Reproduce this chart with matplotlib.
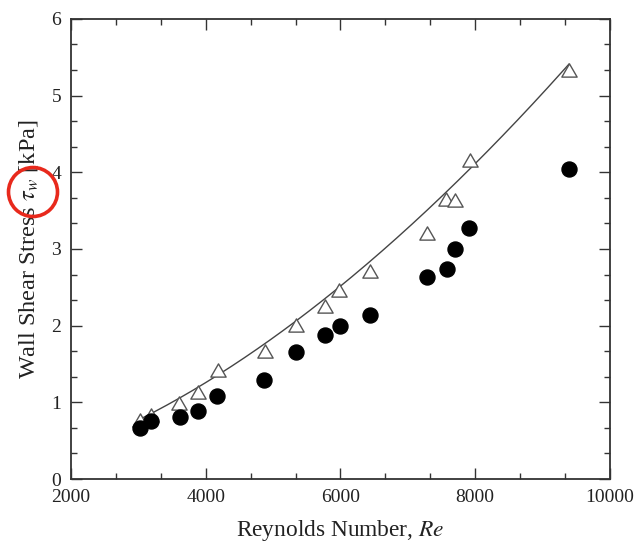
import numpy as np
import matplotlib
matplotlib.use("Agg")
import matplotlib.pyplot as plt
from matplotlib.path import Path
from matplotlib.patches import Ellipse
from matplotlib.ticker import MultipleLocator

plt.rcParams["font.family"] = ["Liberation Serif", "DejaVu Serif"]
plt.rcParams["mathtext.fontset"] = "stix"

# Measured wall shear stress (filled circles)
re_measured = [3024, 3183, 3618, 3881, 4172, 4872, 5335, 5770, 5993, 6438,
               7279, 7576, 7700, 7912, 9396]
tau_measured = [0.67, 0.76, 0.81, 0.89, 1.08, 1.29, 1.66, 1.88, 2.00, 2.14,
                2.63, 2.74, 3.00, 3.28, 4.04]

# Predicted wall shear stress (open triangles)
re_predicted = [3024, 3183, 3607, 3889, 4180, 4880, 5335, 5770, 5982, 6438,
                7279, 7566, 7700, 7922, 9392]
tau_predicted = [0.77, 0.84, 0.99, 1.14, 1.42, 1.67, 2.01, 2.26, 2.47, 2.71,
                 3.21, 3.65, 3.64, 4.16, 5.33]

# Points along the correlation curve
re_curve = [3039, 3603, 4657, 4879, 5295, 6289, 6438, 6839, 7477, 7967,
            8323, 8887, 9392]
tau_curve = [0.78, 1.07, 1.64, 1.75, 2.03, 2.73, 2.82, 3.12, 3.65, 4.07,
             4.42, 4.96, 5.43]

x_ticks = [2000, 4000, 6000, 8000, 10000]
y_ticks = [0, 1, 2, 3, 4, 5, 6]

fig = plt.figure(figsize=(6.34, 5.49), dpi=100)
ax = fig.add_axes([0.112, 0.1275, 0.850, 0.838])

# power-law correlation through the curve points
b, log_a = np.polyfit(np.log(re_curve), np.log(tau_curve), 1)
re_line = np.linspace(min(re_curve), max(re_curve), 200)
ax.plot(re_line, np.exp(log_a) * re_line ** b, color="#444444", lw=1.0, zorder=2)

# equilateral triangle marker
tri = Path([(-1, -0.866), (1, -0.866), (0, 0.866), (-1, -0.866)],
           [Path.MOVETO, Path.LINETO, Path.LINETO, Path.CLOSEPOLY])

ax.plot(re_predicted, tau_predicted, linestyle="none", marker=tri, ms=11,
        mfc="white", mec="#555555", mew=1.0, zorder=3)
ax.plot(re_measured, tau_measured, linestyle="none", marker="o", ms=10.8,
        mfc="black", mec="black", zorder=4)

ax.set_xlim(2000, 10000)
ax.set_ylim(0, 6)
ax.set_xticks(x_ticks)
ax.set_yticks(y_ticks)
ax.set_xticklabels([str(v) for v in x_ticks])
ax.set_yticklabels([str(v) for v in y_ticks])
ax.xaxis.set_minor_locator(MultipleLocator(2000 / 3))
ax.yaxis.set_minor_locator(MultipleLocator(1 / 3))

ax.tick_params(which="both", direction="in", top=True, right=True,
               color="#333333", width=1.0, labelsize=14, labelcolor="#222222")
ax.tick_params(which="major", length=8, pad=7)
ax.tick_params(which="minor", length=4.5)
for s in ax.spines.values():
    s.set_color("#333333")
    s.set_linewidth(1.3)

ax.set_xlabel(r"Reynolds Number, $\mathit{Re}$", fontsize=16.8, color="#222222",
              labelpad=9)
ax.set_ylabel(r"Wall Shear Stress $\tau_w$ [kPa]", fontsize=17.5, color="#222222",
              labelpad=8)

# highlight ring around the symbol in the axis label
ring = Ellipse((33 / 634, 1 - 192 / 549), 49 / 634, 49 / 549,
               transform=fig.transFigure, fill=False, edgecolor="#e8291c",
               lw=2.6, zorder=10)
fig.patches.append(ring)

fig.savefig("out.png", dpi=100)
